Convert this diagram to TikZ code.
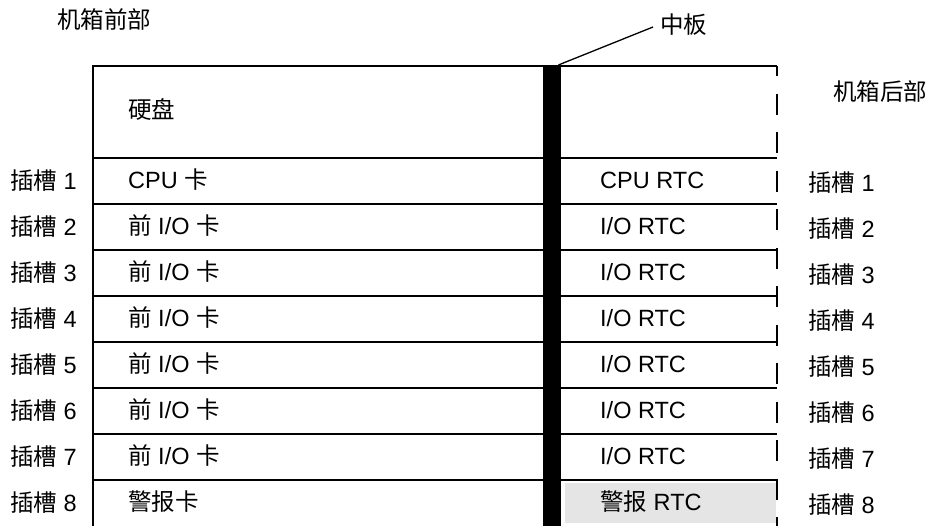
\documentclass[tikz,border=0pt]{standalone}
\usepackage{fontspec}
\setmainfont{Liberation Sans}
\newfontfamily\zhfont{Noto Sans CJK SC}
\newcommand\zh[1]{{\zhfont #1}}
\definecolor{alarmgray}{HTML}{E5E5E5}
\begin{document}
\begin{tikzpicture}[x=1pt,y=-1pt,
  txt/.style={inner sep=0pt, text height=19.8pt, text depth=2.6pt, yshift=-2pt,
    font=\fontsize{23.5}{28}\selectfont, anchor=west},
  frame/.style={line width=2.5pt},
  rearedge/.style={line width=2.5pt, dash pattern=on 21pt off 17.5pt, dash phase=10.8pt},
  leader/.style={line width=1.3pt}]
\useasboundingbox (0,0) rectangle (934,526);

% alarm RTC shading
\fill[alarmgray] (565,483) rectangle (776,523);

% frame: left edge and top
\draw[frame] (93,526) -- (93,66) -- (777,66);
% row separators
\foreach \y in {158,204,250,296,342,388,434,480}
  \draw[frame] (93,\y) -- (777,\y);
% dashed rear edge
\draw[rearedge] (777,66) -- (777,526);

% midplane bar
\node[name=bar, fill=black, inner sep=0pt, minimum width=18pt, minimum height=461pt,
  anchor=north west] at (543,65) {};

% labels
\node[txt, name=front] at (57,18) {\zh{机箱前部}};
\node[txt, name=mid] at (660,23) {\zh{中板}};
\node[txt, name=rear] at (833,90) {\zh{机箱后部}};
\node[txt, name=hdd] at (128,108) {\zh{硬盘}};

\coordinate (barTop) at ([xshift=-3pt]bar.north east);
\draw[leader] (barTop) -- ([xshift=-7pt,yshift=-2pt]mid.west);

% rows
\foreach \k/\card/\rtc in {1/{CPU \zh{卡}}/{CPU RTC},
                          2/{\zh{前} I/O \zh{卡}}/{I/O RTC},
                          3/{\zh{前} I/O \zh{卡}}/{I/O RTC},
                          4/{\zh{前} I/O \zh{卡}}/{I/O RTC},
                          5/{\zh{前} I/O \zh{卡}}/{I/O RTC},
                          6/{\zh{前} I/O \zh{卡}}/{I/O RTC},
                          7/{\zh{前} I/O \zh{卡}}/{I/O RTC},
                          8/{\zh{警报卡}}/{\zh{警报} RTC}}{
  \pgfmathsetmacro{\yc}{158+46*(\k-1)+23}
  \node[txt, name=lslot\k] at (10,\yc-2) {\zh{插槽} \k};
  \node[txt, name=card\k] at (128,\yc-3.5) {\card};
  \node[txt, name=rtc\k] at (600,\yc-3.5) {\rtc};
  \node[txt, name=rslot\k] at (808,\yc) {\zh{插槽} \k};
}
\end{tikzpicture}
\end{document}
